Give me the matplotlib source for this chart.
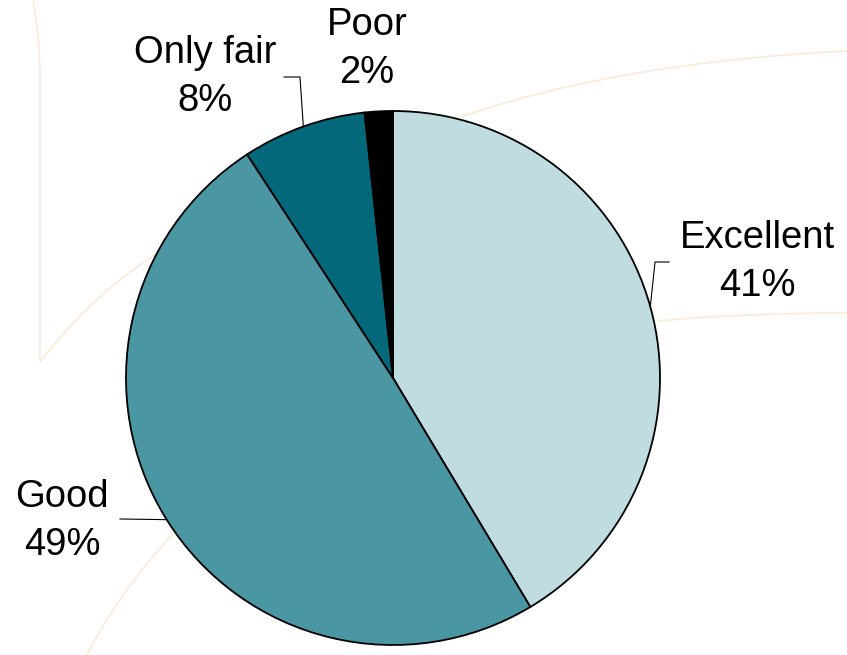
import numpy as np
import matplotlib
matplotlib.use("Agg")
import matplotlib.pyplot as plt
from matplotlib.path import Path
from matplotlib.patches import PathPatch

# data
categories = ["Excellent", "Good", "Only fair", "Poor"]
shares = [41.4, 49.4, 7.5, 1.7]          # slice sizes as drawn
pct_labels = ["41%", "49%", "8%", "2%"]  # printed labels
colors = ["#BFDDE0", "#4A97A3", "#02687A", "#000000"]
label_xy = [(757, 262), (62, 521), (205, 77), (367, 49)]   # pixel coords, top origin
leader = [True, True, True, False]

W, H = 847, 655
plt.rcParams['font.family'] = ['Liberation Sans', 'DejaVu Sans']

fig = plt.figure(figsize=(W / 100, H / 100), dpi=100)
ax = fig.add_axes([0, 0, 1, 1])

def fy(y):
    return H - y

# faint decorative background curves
bg = "#FDEAD5"
curves = [
    [(33, 0), (40, 40), (40, 77)],
    [(40, 77), (40, 220), (40, 362)],
    [(40, 362), (95, 290), (170, 245)],
    [(460, 117), (620, 62), (847, 51)],
    [(658, 321), (740, 313), (847, 313)],
    [(174, 533), (120, 590), (87, 655)],
]
for c in curves:
    pts = [(x, fy(y)) for x, y in c]
    p = Path(pts, [Path.MOVETO, Path.CURVE3, Path.CURVE3])
    ax.add_patch(PathPatch(p, fill=False, edgecolor=bg, lw=1.2, zorder=0))

cx, cy, r = 393, fy(378), 267
wedges, _ = ax.pie(shares, colors=colors, startangle=90, counterclock=False,
                   center=(cx, cy), radius=r, frame=True,
                   wedgeprops=dict(edgecolor='black', linewidth=1.3))
ax.set_xlim(0, W)
ax.set_ylim(0, H)
ax.set_aspect('equal')
ax.axis('off')

for w, name, pl, (lx, ly), has_leader in zip(wedges, categories, pct_labels, label_xy, leader):
    ax.text(lx, fy(ly), f"{name}\n{pl}", ha='center', va='center',
            multialignment='center', fontsize=27.5, linespacing=1.42, zorder=5)
    if has_leader:
        mid = np.deg2rad((w.theta1 + w.theta2) / 2)
        ex, ey = cx + r * np.cos(mid), cy + r * np.sin(mid)
        if name == "Excellent":
            xs, ys = [669, 655, ex], [fy(262), fy(262), ey]
        elif name == "Only fair":
            xs, ys = [284, 300, ex], [fy(77), fy(77), ey]
        else:
            xs, ys = [120, ex], [fy(519), ey]
        ax.plot(xs, ys, color='black', lw=0.8, zorder=4)

fig.savefig("out.png", dpi=100, facecolor='white')
